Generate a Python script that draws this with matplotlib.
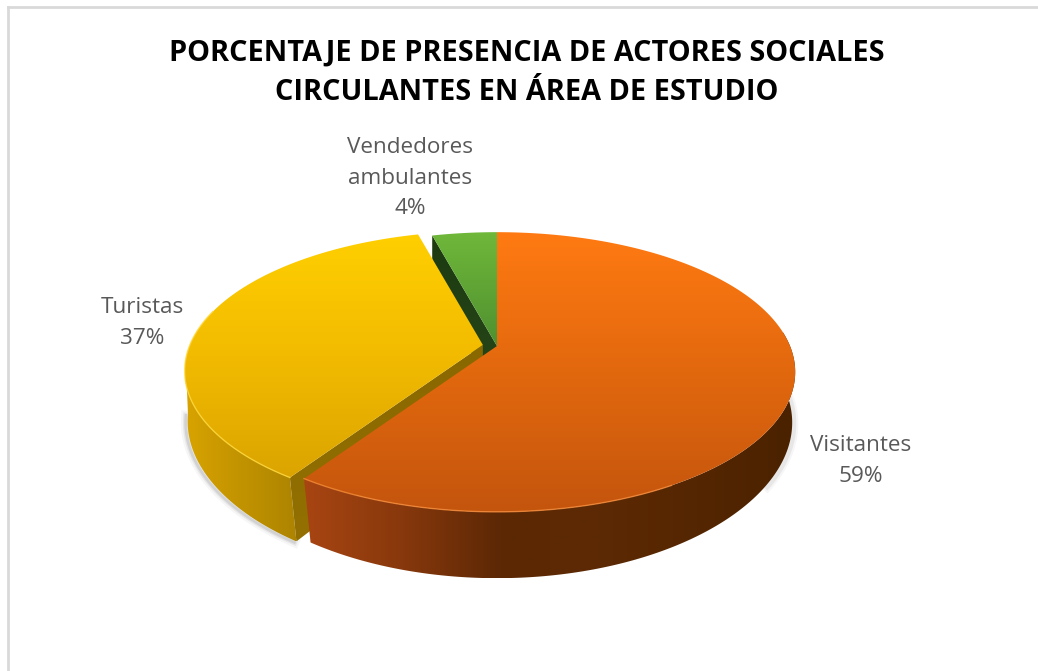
import numpy as np
import matplotlib
matplotlib.use("Agg")
import matplotlib.pyplot as plt
from matplotlib.colors import LinearSegmentedColormap
from matplotlib.patches import Polygon

labels = ["Visitantes", "Turistas", "Vendedores\nambulantes"]
values = [59.4, 36.4, 4.2]
percent_labels = ["59%", "37%", "4%"]
title_lines = ["PORCENTAJE DE PRESENCIA DE ACTORES SOCIALES",
               "CIRCULANTES EN ÁREA DE ESTUDIO"]

W, H = 1038, 671
fig = plt.figure(figsize=(W / 100, H / 100), dpi=100)
ax = fig.add_axes([0, 0, 1, 1])
ax.set_xlim(0, W)
ax.set_ylim(H, 0)
ax.axis("off")

# projection of the pie disc
cx, cy = 497, 346
ra, rb = 293, 135
k = 0.186
depth = 54


def project(u, v, z=0.0):
    u, v = np.asarray(u, float), np.asarray(v, float)
    w = 1 + k * v
    # lower rim pulls in a little towards the centre at the front
    tilt = 1 - z * (0.004 + 0.036 * np.maximum(-v, 0))
    return cx + ra * u / w * tilt, cy - rb * v / w + z * depth / w


def arc(a0, a1, z=0.0):
    t = np.radians(np.linspace(a0, a1, 200))
    x, y = project(np.sin(t), np.cos(t), z)
    return np.column_stack([x, y])


def point(a, z=0.0):
    return arc(a, a, z)[0]


zo = [3]


def fill(poly, colors, horizontal=False):
    poly = np.asarray(poly)
    x0, x1 = poly[:, 0].min(), poly[:, 0].max()
    y0, y1 = poly[:, 1].min(), poly[:, 1].max()
    stops = np.linspace(0, 1, len(colors))
    cmap = LinearSegmentedColormap.from_list("g", list(zip(stops, colors)))
    g = np.linspace(0, 1, 256)
    g = g[None, :] if horizontal else g[:, None]
    im = ax.imshow(g, cmap=cmap, extent=[x0, x1, y1, y0], aspect="auto", zorder=zo[0])
    im.set_clip_path(Polygon(poly, transform=ax.transData))
    zo[0] += 1


def rim(pts, color, alpha=0.8, lw=1.0):
    ax.plot(pts[:, 0], pts[:, 1], color=color, lw=lw, alpha=alpha, zorder=zo[0])
    zo[0] += 1


ends = np.cumsum(values) / sum(values) * 360
starts = np.concatenate([[0], ends[:-1]])
apex = np.array([float(c) for c in project(0, 0)])
apex_low = np.array([float(c) for c in project(0, 0, 1)])

# Vendedores (back slice)
corner = point(starts[2])
fill([apex, corner, corner + [0, 45], apex_low], ["#1d3a10", "#27481a"])
fill(np.vstack([[apex], arc(starts[2], ends[2])]), ["#6fb83a", "#4f9030"])

# Turistas, pulled out from the centre
mid = np.radians((starts[1] + ends[1]) / 2)
pull = 0.049
shift = np.array([float(c) for c in project(pull * np.sin(mid), pull * np.cos(mid))]) - apex

low_t = arc(starts[1], 264, 1) + shift
for lw, al in [(7, 0.05), (4, 0.09), (2, 0.14)]:
    ax.plot(low_t[:, 0] - 2, low_t[:, 1] + 1, color="#555555", lw=lw, alpha=al, zorder=2)
side = np.vstack([arc(starts[1], 264) + shift, low_t[::-1]])
fill(side, ["#d8a400", "#cd9b00", "#c29300", "#b88c00", "#ad8300"], horizontal=True)
c0, c1 = point(starts[1]) + shift, point(starts[1], 1) + shift
fill([apex + shift, c0, c1, apex_low + shift], ["#8a6800", "#937000"])
fill(np.vstack([[apex + shift], arc(starts[1], ends[1]) + shift]),
     ["#ffcf00", "#f2bb00", "#dba400"])
rim(arc(starts[1], 285) + shift, "#ffd83a")

# Visitantes
low_v = arc(84, ends[0], 1)
for lw, al in [(6, 0.05), (3, 0.09)]:
    ax.plot(low_v[:60, 0] + 2, low_v[:60, 1] + 1, color="#555555", lw=lw, alpha=al, zorder=2)
side = np.vstack([arc(84, ends[0]), low_v[::-1]])
fill(side, ["#a84512", "#87380c", "#5c2805", "#5c2a04", "#552602", "#4a2200"], horizontal=True)
fill(np.vstack([[apex], arc(starts[0], ends[0])]), ["#ff7a12", "#e2680e", "#c4550d"])
rim(arc(150, ends[0]), "#f58a38")

# chart frame, open at the right and bottom
ax.plot([8, 8], [H, 7], color="#d9d9d9", lw=2, zorder=1)
ax.plot([8, W], [7, 7], color="#d9d9d9", lw=2, zorder=1)

for txt, ty in zip(title_lines, [53, 92]):
    ax.text(527, ty, txt, ha="center", va="center", fontsize=20.8, fontweight="bold",
            family="Open Sans", color="black", zorder=50)

label_pos = [(861, 461), (142, 323), (410, 178)]
for name, pct, (lx, ly) in zip(labels, percent_labels, label_pos):
    ax.text(lx, ly, name + "\n" + pct, ha="center", va="center", fontsize=16.2,
            family="Open Sans", color="#595959", linespacing=1.6, zorder=50)

fig.savefig("out.png", dpi=100)
